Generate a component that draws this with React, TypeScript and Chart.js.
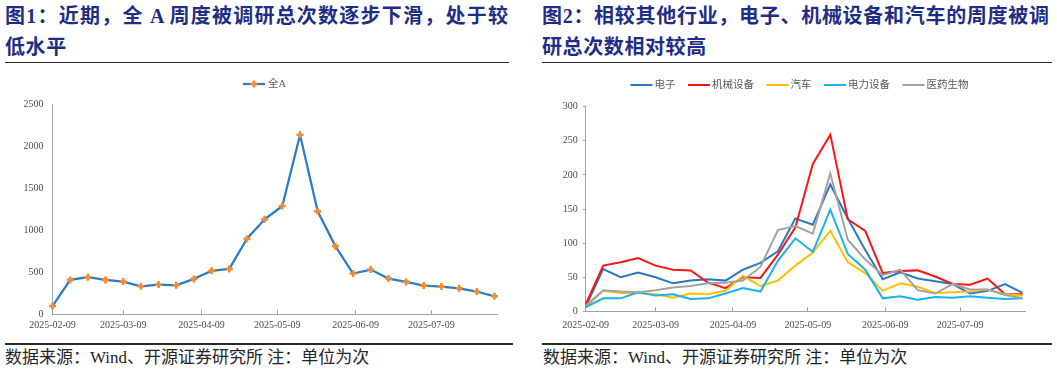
import React, { useEffect, useRef } from "react";
import { Chart, registerables } from "chart.js";

Chart.register(...registerables);

// ---------- data ----------
const weekDates = [
  "2025-02-09", "2025-02-16", "2025-02-23", "2025-03-02", "2025-03-09", "2025-03-16",
  "2025-03-23", "2025-03-30", "2025-04-06", "2025-04-13", "2025-04-20", "2025-04-27",
  "2025-05-04", "2025-05-11", "2025-05-18", "2025-05-25", "2025-06-01", "2025-06-08",
  "2025-06-15", "2025-06-22", "2025-06-29", "2025-07-06", "2025-07-13", "2025-07-20",
  "2025-07-27", "2025-08-03",
];
const tickDates = ["2025-02-09", "2025-03-09", "2025-04-09", "2025-05-09", "2025-06-09", "2025-07-09"];
const axisEndDate = "2025-08-04";

const allALabel = "全A";
const allAValues = [
  95, 406, 438, 406, 386, 330, 350, 342, 418, 514, 537, 896, 1127, 1286, 2134, 1222,
  808, 482, 529, 422, 382, 338, 326, 306, 267, 211,
];

const industryNames = ["电子", "机械设备", "汽车", "电力设备", "医药生物"];
const electronicsValues = [7, 62, 50, 57, 50, 41, 45, 47, 45, 61, 71, 88, 136, 127, 186, 136, 90, 47, 57, 48, 44, 40, 26, 30, 40, 27];
const machineryValues = [10, 67, 72, 78, 67, 61, 60, 42, 34, 50, 49, 83, 123, 216, 259, 135, 118, 56, 59, 60, 51, 40, 39, 48, 25, 25];
const autoValues = [6, 30, 27, 27, 25, 20, 26, 25, 30, 52, 37, 45, 67, 86, 118, 72, 56, 30, 41, 36, 27, 28, 29, 32, 25, 23];
const powerEquipValues = [6, 19, 19, 28, 23, 25, 18, 19, 26, 34, 29, 74, 107, 87, 149, 84, 61, 19, 22, 17, 21, 20, 22, 20, 18, 19];
const pharmaValues = [8, 31, 29, 28, 31, 35, 37, 41, 42, 45, 65, 119, 125, 114, 202, 105, 76, 53, 61, 31, 26, 40, 32, 32, 24, 19];
const industrySeries = [electronicsValues, machineryValues, autoValues, powerEquipValues, pharmaValues];

const title1Lines = ["图1：近期，全 A 周度被调研总次数逐步下滑，处于较", "低水平"];
const title2Lines = ["图2：相较其他行业，电子、机械设备和汽车的周度被调", "研总次数相对较高"];
const footnoteText = "数据来源：Wind、开源证券研究所 注：单位为次";

// ---------- styles ----------
const industryColors = ["#2b78c2", "#ff1414", "#ffc000", "#1ab2ee", "#a3a3a3"];
const allALineColor = "#2a7bca";
const allAMarkerColor = "#f48a32";
const axisColor = "#a3a3a3";
const tickLabelColor = "#4d4d4d";
const titleColor = "#1f2e85";
const tickFont = { family: '"Liberation Serif", "Times New Roman", serif', size: 10 };

const DAY = 86400000;
const dayOf = (d: string) => (Date.parse(d) - Date.parse(weekDates[0])) / DAY;
const tickLabelMap: Record<number, string> = {};
tickDates.forEach((d) => (tickLabelMap[dayOf(d)] = d));

const lineLegendPlugin = {
  id: "lineLegend",
  afterDraw(chart: any, _args: any, opts: any) {
    if (!opts || !opts.enabled) return;
    const ctx = chart.ctx as CanvasRenderingContext2D;
    ctx.save();
    ctx.font = opts.font;
    const ds = chart.data.datasets;
    const widths = ds.map((d: any) => ctx.measureText(d.label).width);
    const itemW = widths.map((w: number) => opts.lineLen + opts.textGap + w);
    const total = itemW.reduce((a: number, b: number) => a + b, 0) + opts.itemGap * (ds.length - 1);
    let x = opts.centerX - total / 2;
    ds.forEach((d: any, i: number) => {
      ctx.strokeStyle = d.borderColor;
      ctx.lineWidth = d.borderWidth;
      ctx.beginPath();
      ctx.moveTo(x, opts.y);
      ctx.lineTo(x + opts.lineLen, opts.y);
      ctx.stroke();
      if (opts.marker) {
        const cx = x + opts.lineLen / 2;
        const r = d.pointRadius;
        ctx.strokeStyle = d.pointBorderColor;
        ctx.lineWidth = d.pointBorderWidth;
        ctx.beginPath();
        ctx.moveTo(cx - r, opts.y);
        ctx.lineTo(cx + r, opts.y);
        ctx.moveTo(cx, opts.y - r);
        ctx.lineTo(cx, opts.y + r);
        ctx.stroke();
      }
      ctx.fillStyle = opts.color;
      ctx.textBaseline = "middle";
      ctx.textAlign = "left";
      ctx.fillText(d.label, x + opts.lineLen + opts.textGap, opts.y + 0.5);
      x += itemW[i] + opts.itemGap;
    });
    ctx.restore();
  },
};

function xScale(labelPad: number, axisHeight: number) {
  return {
    type: "linear",
    min: 0,
    max: dayOf(axisEndDate),
    afterBuildTicks: (s: any) => {
      s.ticks = tickDates.map((d) => ({ value: dayOf(d) }));
    },
    afterFit: (s: any) => {
      s.height = axisHeight;
    },
    ticks: {
      autoSkip: false,
      maxRotation: 0,
      minRotation: 0,
      padding: labelPad,
      color: tickLabelColor,
      font: tickFont,
      callback: (v: number) => tickLabelMap[v] ?? "",
    },
    grid: { display: true, drawOnChartArea: false, drawTicks: true, tickLength: -4, color: axisColor, lineWidth: 1 },
    border: { display: true, color: axisColor, width: 1 },
  };
}

function yScale(max: number, step: number, width: number, tickLen: number, pad: number) {
  return {
    min: 0,
    max,
    afterFit: (s: any) => {
      s.width = width;
    },
    ticks: {
      stepSize: step,
      padding: pad,
      color: tickLabelColor,
      font: tickFont,
      callback: (v: number) => String(v),
    },
    grid: { display: true, drawOnChartArea: false, drawTicks: tickLen > 0, tickLength: tickLen, color: axisColor },
    border: { display: true, color: axisColor, width: 1 },
  };
}

function makeAllAConfig(): any {
  return {
    type: "line",
    data: {
      datasets: [
        {
          label: allALabel,
          data: weekDates.map((d, i) => ({ x: dayOf(d), y: allAValues[i] })),
          borderColor: allALineColor,
          borderWidth: 2.25,
          pointStyle: "cross",
          pointRadius: 3.5,
          pointBorderColor: allAMarkerColor,
          pointBackgroundColor: allAMarkerColor,
          pointBorderWidth: 2.6,
          tension: 0,
          clip: false,
        },
      ],
    },
    options: {
      animation: false,
      responsive: false,
      devicePixelRatio: 1,
      events: [],
      layout: { padding: { left: 0, right: 18, top: 38, bottom: 0 } },
      plugins: {
        legend: { display: false },
        tooltip: { enabled: false },
        lineLegend: {
          enabled: true,
          marker: true,
          font: '10.5px "Liberation Serif", "Noto Sans CJK SC", sans-serif',
          color: "#595959",
          y: 18,
          centerX: 264.5,
          lineLen: 22,
          textGap: 3,
          itemGap: 12,
        },
      },
      scales: {
        x: xScale(9, 28),
        y: yScale(2500, 500, 52.5, 0, 9),
      },
    },
    plugins: [lineLegendPlugin],
  };
}

function makeIndustryConfig(): any {
  return {
    type: "line",
    data: {
      datasets: industryNames.map((name, k) => ({
        label: name,
        data: weekDates.map((d, i) => ({ x: dayOf(d), y: industrySeries[k][i] })),
        borderColor: industryColors[k],
        backgroundColor: industryColors[k],
        borderWidth: 2,
        pointRadius: 0,
        tension: 0,
        order: industryNames.length - k,
        clip: false,
      })),
    },
    options: {
      animation: false,
      responsive: false,
      devicePixelRatio: 1,
      events: [],
      layout: { padding: { left: 0, right: 32, top: 40.7, bottom: 0 } },
      plugins: {
        legend: { display: false },
        tooltip: { enabled: false },
        lineLegend: {
          enabled: true,
          marker: false,
          font: '10.5px "Liberation Serif", "Noto Sans CJK SC", sans-serif',
          color: "#595959",
          y: 19,
          centerX: 262.5,
          lineLen: 22,
          textGap: 2,
          itemGap: 12.5,
        },
      },
      scales: {
        x: xScale(12, 30.7),
        y: yScale(300, 50, 48.7, 3, 5),
      },
    },
    plugins: [lineLegendPlugin],
  };
}

function ChartCanvas(props: { make: () => any; left: number; top: number; width: number; height: number }) {
  const ref = useRef<HTMLCanvasElement>(null);
  useEffect(() => {
    const chart = new Chart(ref.current as HTMLCanvasElement, props.make());
    return () => chart.destroy();
  }, []);
  return (
    <canvas
      ref={ref}
      width={props.width}
      height={props.height}
      style={{ position: "absolute", left: props.left, top: props.top, width: props.width, height: props.height }}
    />
  );
}

const titleFont = '"Liberation Serif", "Noto Sans CJK SC", serif';
const noteFont = '"Liberation Serif", "Noto Sans CJK SC", serif';

function Title(props: { lines: string[]; left: number; width: number }) {
  return (
    <div
      style={{
        position: "absolute",
        left: props.left,
        top: 1,
        width: props.width,
        fontFamily: titleFont,
        fontWeight: 700,
        fontSize: 20,
        color: titleColor,
      }}
    >
      <div style={{ height: 30.5, lineHeight: "30.5px", textAlign: "justify", textAlignLast: "justify" as any }}>
        {props.lines[0]}
      </div>
      <div style={{ height: 30.5, lineHeight: "30.5px", letterSpacing: 0.6 }}>{props.lines[1]}</div>
    </div>
  );
}

function Rule(props: { left: number; top: number; width: number }) {
  return (
    <div
      style={{
        position: "absolute",
        left: props.left,
        top: props.top,
        width: props.width,
        height: 1.5,
        background: "#2a2a2a",
      }}
    />
  );
}

function Footnote(props: { left: number }) {
  return (
    <div
      style={{
        position: "absolute",
        left: props.left,
        top: 348,
        fontFamily: noteFont,
        fontSize: 17,
        lineHeight: "19px",
        color: "#262626",
        whiteSpace: "pre",
      }}
    >
      {footnoteText}
    </div>
  );
}

export default function App() {
  return (
    <div
      style={{
        position: "fixed",
        left: 0,
        top: 0,
        width: 1057,
        height: 374,
        background: "#ffffff",
        overflow: "hidden",
      }}
    >
      <Title lines={title1Lines} left={5} width={503} />
      <Title lines={title2Lines} left={542} width={507} />
      <Rule left={5} top={61.5} width={504} />
      <Rule left={542} top={61.5} width={510} />
      <ChartCanvas make={makeAllAConfig} left={0} top={66} width={515} height={276} />
      <ChartCanvas make={makeIndustryConfig} left={537} top={66} width={520} height={276} />
      <Rule left={5} top={343} width={508} />
      <Rule left={542} top={343} width={510} />
      <Footnote left={5} />
      <Footnote left={543} />
    </div>
  );
}
